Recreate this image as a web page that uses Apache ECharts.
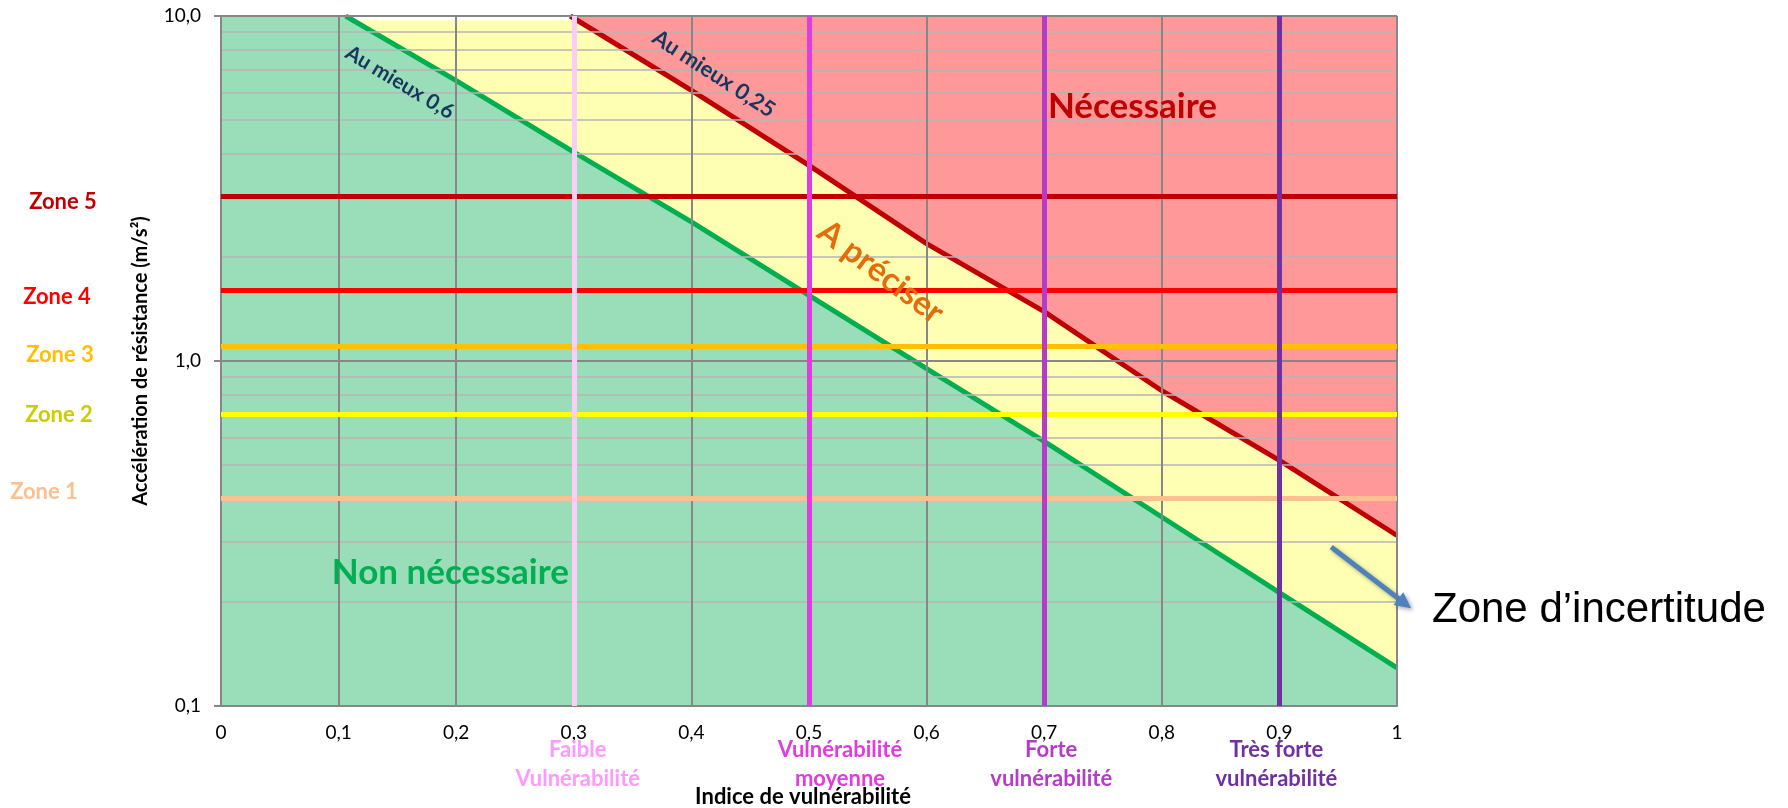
<!DOCTYPE html>
<html lang="fr">
<head>
<meta charset="utf-8">
<title>Renforcement parasismique</title>
<script src="https://cdn.jsdelivr.net/npm/echarts@6/dist/echarts.min.js"></script>
<style>
  html, body { margin: 0; padding: 0; background: #fff; }
  #chart { width: 1788px; height: 808px; }
</style>
</head>
<body>
<div id="chart"></div>
<script>
// axes
var xTicks = [0, 0.1, 0.2, 0.3, 0.4, 0.5, 0.6, 0.7, 0.8, 0.9, 1];
var yMajor = [0.1, 1, 10];
var yMinor = [0.2, 0.3, 0.4, 0.5, 0.6, 0.7, 0.8, 0.9, 2, 3, 4, 5, 6, 7, 8, 9];

// droite "Au mieux 0,6" (indice, accélération)
var mieux06X = [0.106, 0.2, 0.3, 0.4, 0.5, 0.6, 0.7, 0.8, 0.9, 1.0];
var mieux06Y = [10, 6.5, 4.03, 2.53, 1.55, 0.95, 0.585, 0.353, 0.213, 0.129];
// droite "Au mieux 0,25"
var mieux025X = [0.297, 0.4, 0.5, 0.6, 0.7, 0.8, 0.9, 1.0];
var mieux025Y = [10, 6.09, 3.69, 2.19, 1.39, 0.82, 0.515, 0.312];
var jauneMax = 9.7;

// zones de sismicité
var zoneNames = ['Zone 1', 'Zone 2', 'Zone 3', 'Zone 4', 'Zone 5'];
var zoneValues = [0.4, 0.7, 1.1, 1.6, 3.0];

// classes de vulnérabilité
var vulnNames = ['Faible\nVulnérabilité', 'Vulnérabilité\nmoyenne', 'Forte\nvulnérabilité', 'Très forte\nvulnérabilité'];
var vulnValues = [0.3, 0.5, 0.7, 0.9];

// couleurs
var zoneColors = ['#FAC090', '#FFFF00', '#FFC000', '#FF0000', '#C00000'];
var zoneTextColors = ['#FAC090', '#CCCC00', '#FFC000', '#FF0000', '#C00000'];
var vulnColors = ['#FBCDF8', '#E03CE0', '#B43CC8', '#7030A0'];
var vulnTextColors = ['#FF99FF', '#E03CE0', '#B43CC8', '#7030A0'];

var FONT = 'Lato';

function pairs(xs, ys) {
    return xs.map(function (x, i) { return [x, ys[i]]; });
}
function virgule(v) {
    var r = Math.round(v * 10) / 10;
    if (r === 0 || r === 1) return String(r);
    return r.toFixed(1).replace('.', ',');
}

var gridLines = [];
yMinor.forEach(function (v) {
    gridLines.push({ yAxis: v, lineStyle: { color: '#B4B4B4', width: 1.5, type: 'solid' } });
});
yMajor.forEach(function (v) {
    gridLines.push({ yAxis: v, lineStyle: { color: '#878787', width: 2, type: 'solid' } });
});
xTicks.forEach(function (v) {
    gridLines.push({ xAxis: v, lineStyle: { color: '#878787', width: 2, type: 'solid' } });
});

var chart = echarts.init(document.getElementById('chart'));
var option = {
    animation: false,
    backgroundColor: '#fff',
    grid: { left: 221, right: 391, top: 16, bottom: 102 },
    xAxis: {
        type: 'value', min: 0, max: 1, interval: 0.1,
        axisLine: { show: true, lineStyle: { color: '#878787', width: 2 } },
        axisTick: { show: false },
        splitLine: { show: false },
        axisLabel: { fontFamily: FONT, fontSize: 19, color: '#000', margin: 17, formatter: virgule }
    },
    yAxis: {
        type: 'log', logBase: 10, min: 0.1, max: 10,
        axisLine: { show: true, lineStyle: { color: '#878787', width: 2 } },
        axisTick: { show: true, length: 7, lineStyle: { color: '#878787', width: 2 } },
        splitLine: { show: false },
        minorTick: { show: false },
        axisLabel: {
            fontFamily: FONT, fontSize: 19, color: '#000', margin: 20,
            formatter: function (v) { return v.toFixed(1).replace('.', ','); }
        }
    },
    series: [
        {
            name: 'jaune', type: 'line', silent: true, z: 1, symbol: 'none',
            data: [[0, jauneMax], [1, jauneMax]],
            lineStyle: { width: 0, opacity: 0 },
            areaStyle: { color: '#FFFFB3', opacity: 1, origin: 'start' }
        },
        {
            name: 'vert', type: 'line', silent: true, z: 1, symbol: 'none',
            data: [[0, 10]].concat(pairs(mieux06X, mieux06Y)),
            lineStyle: { width: 0, opacity: 0 },
            areaStyle: { color: '#9ADDB9', opacity: 1, origin: 'start' }
        },
        {
            name: 'rouge', type: 'line', silent: true, z: 1, symbol: 'none',
            data: pairs(mieux025X, mieux025Y),
            lineStyle: { width: 0, opacity: 0 },
            areaStyle: { color: '#FF9999', opacity: 1, origin: 'end' }
        },
        {
            name: 'grille', type: 'line', silent: true, z: 3, symbol: 'none',
            data: [[0, 1]],
            lineStyle: { opacity: 0 },
            markLine: { silent: true, symbol: ['none', 'none'], label: { show: false }, data: gridLines }
        },
        {
            name: 'Au mieux 0,6', type: 'line', silent: true, z: 4, symbol: 'none',
            data: pairs(mieux06X, mieux06Y),
            lineStyle: { color: '#00B050', width: 5 }
        },
        {
            name: 'Au mieux 0,25', type: 'line', silent: true, z: 4, symbol: 'none',
            data: pairs(mieux025X, mieux025Y),
            lineStyle: { color: '#C00000', width: 5 }
        },
        {
            name: 'zones', type: 'line', silent: true, z: 5, symbol: 'none',
            data: [[0, 1]],
            lineStyle: { opacity: 0 },
            markLine: {
                silent: true, symbol: ['none', 'none'], label: { show: false },
                data: zoneValues.map(function (v, i) {
                    return { yAxis: v, lineStyle: { color: zoneColors[i], width: 5, type: 'solid' } };
                })
            }
        },
        {
            name: 'vulnérabilité', type: 'line', silent: true, z: 6, symbol: 'none',
            data: [[0, 1]],
            lineStyle: { opacity: 0 },
            markLine: {
                silent: true, symbol: ['none', 'none'], label: { show: false },
                data: vulnValues.map(function (v, i) {
                    return { xAxis: v, lineStyle: { color: vulnColors[i], width: 5, type: 'solid' } };
                })
            }
        }
    ]
};
chart.setOption(option);

// annotations
function px(x, y) { return chart.convertToPixel({ gridIndex: 0 }, [x, y]); }
function txt(p, text, color, size, rot, extra) {
    var st = {
        text: text, fill: color, align: 'center', verticalAlign: 'middle',
        font: 'bold ' + size + 'px ' + FONT
    };
    if (extra) for (var k in extra) st[k] = extra[k];
    return { type: 'text', x: p[0], y: p[1], rotation: (rot || 0) * Math.PI / 180, z: 100, style: st };
}

var graphics = [];

// titres des axes
var pMid = px(0.5, 1);
graphics.push(txt([141, pMid[1]], 'Accélération de résistance (m/s²)', '#000', 20, 90));
graphics.push(txt([pMid[0] - 6, 797], 'Indice de vulnérabilité', '#000', 22));

var zoneLabelX = [44, 59, 60, 57, 63];
var zoneLabelDy = [-6, 0, 8, 6, 6];
zoneNames.forEach(function (n, i) {
    var p = px(0, zoneValues[i]);
    graphics.push(txt([zoneLabelX[i], p[1] + zoneLabelDy[i]], n, zoneTextColors[i], 22));
});
var vulnLabelDx = [4, 31, 7, -3];
vulnNames.forEach(function (n, i) {
    var p = px(vulnValues[i], 0.1);
    graphics.push(txt([p[0] + vulnLabelDx[i], 764], n, vulnTextColors[i], 22, 0, { lineHeight: 29 }));
});

graphics.push(txt(px(0.152, 6.42), 'Au mieux 0,6', '#17375E', 21, -31));
graphics.push(txt(px(0.419, 6.8), 'Au mieux 0,25', '#17375E', 22, -33));
graphics.push(txt(px(0.561, 1.81), 'A préciser', '#E46C0A', 33, -37));
graphics.push(txt(px(0.775, 5.44), 'Nécessaire', '#C00000', 35));
graphics.push(txt(px(0.195, 0.244), 'Non nécessaire', '#00B050', 35));

// flèche "zone d'incertitude"
var a0 = px(0.944, 0.289), a1 = px(1.012, 0.192);
var dx = a1[0] - a0[0], dy = a1[1] - a0[1], len = Math.sqrt(dx * dx + dy * dy);
var ux = dx / len, uy = dy / len, hl = 16, hw = 8;
var base = [a1[0] - ux * hl, a1[1] - uy * hl];
var shadow = { shadowBlur: 4, shadowColor: 'rgba(0,0,0,0.35)', shadowOffsetX: 2, shadowOffsetY: 2 };
graphics.push({
    type: 'line', z: 100,
    shape: { x1: a0[0], y1: a0[1], x2: base[0] + ux * 2, y2: base[1] + uy * 2 },
    style: Object.assign({ stroke: '#4F81BD', lineWidth: 5 }, shadow)
});
graphics.push({
    type: 'polygon', z: 100,
    shape: { points: [a1, [base[0] - uy * hw, base[1] + ux * hw], [base[0] + uy * hw, base[1] - ux * hw]] },
    style: Object.assign({ fill: '#4F81BD' }, shadow)
});
graphics.push({
    type: 'text', x: 1432, y: 610, z: 100,
    style: { text: 'Zone d’incertitude', fill: '#000', align: 'left', verticalAlign: 'middle', font: '42px "Liberation Sans"' }
});

chart.setOption({ graphic: graphics });
</script>
</body>
</html>
